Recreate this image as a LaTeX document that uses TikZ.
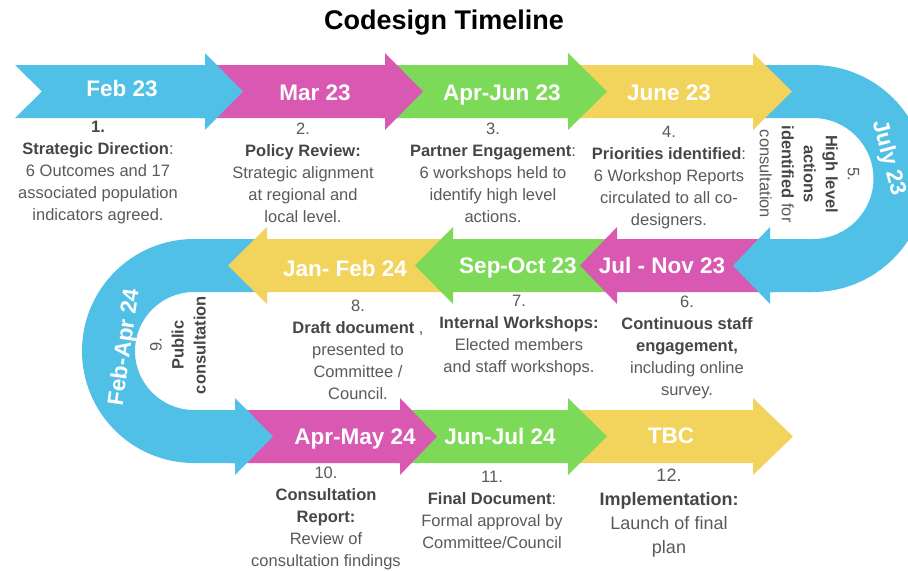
\documentclass[tikz,border=0pt]{standalone}
\usepackage{fontspec}
\setmainfont{Liberation Sans}

\definecolor{tlblue}{HTML}{50C0E6}
\definecolor{tlpink}{HTML}{D858B2}
\definecolor{tlgreen}{HTML}{7DDA58}
\definecolor{tlyellow}{HTML}{F2D35B}
\definecolor{notegrey}{HTML}{5A5A5A}
\definecolor{notedark}{HTML}{464646}

% bold part of a step description
\newcommand{\hd}[1]{{\bfseries\color{notedark}#1}}

\begin{document}
\begin{tikzpicture}[x=1pt,y=1pt,
    datelbl/.style={text=white,font=\fontsize{22.5}{27}\selectfont\bfseries,inner sep=0pt},
    note/.style={text=notegrey,font=\fontsize{16.5}{22}\selectfont,align=center,inner sep=0pt}]
\fill[white] (0,0) rectangle (908,-571);
\useasboundingbox (0,0) rectangle (908,-571);

\node[anchor=base,font=\fontsize{27}{32}\selectfont\bfseries] (title) at (444,-29.5) {Codesign Timeline};

% bottom row, drawn first so the left bend lies over it
\fill[tlyellow] (563,-410) -- (753,-410) -- (753,-398) -- (793,-436.5) -- (753,-475) -- (753,-463) -- (563,-463) -- cycle;
\fill[tlgreen]  (395,-410) -- (568,-410) -- (568,-398) -- (607,-436.5) -- (568,-475) -- (568,-463) -- (395,-463) -- cycle;
\fill[tlpink]   (230,-410) -- (400,-410) -- (400,-398) -- (437,-436.5) -- (400,-475) -- (400,-463) -- (230,-463) -- cycle;
% left bend
\fill[tlblue] (270,-239) -- (194,-239) arc[start angle=90,end angle=270,radius=112]
    -- (235,-463) -- (235,-475) -- (273,-436.5) -- (235,-398) -- (235,-410) -- (194,-410)
    arc[start angle=270,end angle=90,radius=59] -- (270,-292) -- cycle;
% middle row, pointing left
\fill[tlyellow] (460,-239) -- (267,-239) -- (267,-227) -- (228,-265.5) -- (267,-304) -- (267,-292) -- (460,-292) -- cycle;
\fill[tlgreen]  (622,-239) -- (453,-239) -- (453,-227) -- (415,-265.5) -- (453,-304) -- (453,-292) -- (622,-292) -- cycle;
\fill[tlpink]   (775,-239) -- (617,-239) -- (617,-227) -- (580,-265.5) -- (617,-304) -- (617,-292) -- (775,-292) -- cycle;
% right bend
\fill[tlblue] (760,-65) -- (813,-65) arc[start angle=90,end angle=-90,radius=113.5]
    -- (770,-292) -- (770,-304) -- (733,-265.5) -- (770,-227) -- (770,-239) -- (813,-239)
    arc[start angle=-90,end angle=90,radius=60.5] -- (760,-118) -- cycle;
% top row
\fill[tlyellow] (563,-65) -- (753,-65) -- (753,-53) -- (792,-91.5) -- (753,-130) -- (753,-118) -- (563,-118) -- cycle;
\fill[tlgreen]  (380,-65) -- (568,-65) -- (568,-53) -- (607,-91.5) -- (568,-130) -- (568,-118) -- (380,-118) -- cycle;
\fill[tlpink]   (198,-65) -- (385,-65) -- (385,-53) -- (423,-91.5) -- (385,-130) -- (385,-118) -- (198,-118) -- cycle;
\fill[tlblue]   (15,-65) -- (205,-65) -- (205,-53) -- (243,-91.5) -- (205,-130) -- (205,-118) -- (15,-118) -- (42,-91.5) -- cycle;

% dates
\node[datelbl,anchor=base] (d1)  at (122,-96)  {Feb 23};
\node[datelbl,anchor=base] (d2)  at (315,-100) {Mar 23};
\node[datelbl,anchor=base] (d3)  at (502,-100) {Apr-Jun 23};
\node[datelbl,anchor=base] (d4)  at (669,-100) {June 23};
\node[datelbl,rotate=-75]  (d5)  at (888,-158) {July 23};
\node[datelbl,anchor=base] (d6)  at (662,-273) {Jul - Nov 23};
\node[datelbl,anchor=base] (d7)  at (518,-273) {Sep-Oct 23};
\node[datelbl,anchor=base] (d8)  at (345,-276) {Jan- Feb 24};
\node[datelbl,rotate=82]   (d9)  at (125,-347) {Feb-Apr 24};
\node[datelbl,anchor=base] (d10) at (355,-444) {Apr-May 24};
\node[datelbl,anchor=base] (d11) at (500,-444) {Jun-Jul 24};
\node[datelbl,anchor=base] (d12) at (671,-443) {TBC};

% what happens at each step
\node[note] (s1) at (98,-173) {\hd{1.}\\\hd{Strategic Direction}:\\6 Outcomes and 17\\associated population\\indicators agreed.};
\node[note] (s2) at (303,-173) {2.\\\hd{Policy Review:}\\Strategic alignment\\at regional and\\local level.};
\node[note] (s3) at (493,-173) {3.\\\hd{Partner Engagement}:\\6 workshops held to\\identify high level\\actions.};
\node[note] (s4) at (669,-178) {4.\\\hd{Priorities identified}:\\6 Workshop Reports\\circulated to all co-\\designers.};
\node[note,rotate=-90] (s5) at (809.5,-174) {5.\\\hd{High level}\\\hd{actions}\\\hd{identified} for\\consultation};
\node[note] (s6) at (687,-347) {6.\\\hd{Continuous staff}\\\hd{engagement,}\\including online\\survey.};
\node[note] (s7) at (519,-336) {7.\\\hd{Internal Workshops:}\\Elected members\\and staff workshops.};
\node[note] (s8) at (358,-350) {8.\\\hd{Draft document} ,\\presented to\\Committee /\\Council.};
\node[note,rotate=90] (s9) at (178,-345) {9.\\\hd{Public}\\\hd{consultation}};
\node[note] (s10) at (326,-518) {10.\\\hd{Consultation}\\\hd{Report:}\\Review of\\consultation findings};
\node[note] (s11) at (492,-510) {11.\\\hd{Final Document}:\\Formal approval by\\Committee/Council};
\node[note,font=\fontsize{18}{24}\selectfont] (s12) at (669,-513) {12.\\\hd{Implementation:}\\Launch of final\\plan};
\end{tikzpicture}
\end{document}
